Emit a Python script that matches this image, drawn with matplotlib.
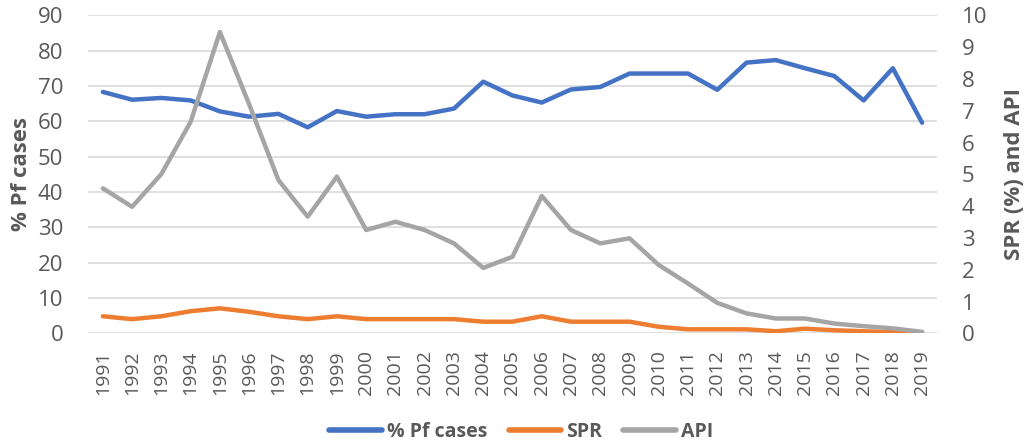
import numpy as np
import matplotlib
matplotlib.use("Agg")
import matplotlib.pyplot as plt

years = list(range(1991, 2020))
pf_cases = [68.3, 66.1, 66.6, 65.9, 62.8, 61.3, 62.1, 58.3, 62.9, 61.3, 62.0, 62.0, 63.6, 71.2,
            67.3, 65.3, 69.0, 69.7, 73.5, 73.5, 73.5, 68.9, 76.6, 77.3, 75.0, 72.8, 65.9, 75.0, 59.6]
spr = [0.54, 0.45, 0.54, 0.70, 0.79, 0.68, 0.54, 0.45, 0.54, 0.45, 0.45, 0.45, 0.45, 0.37,
       0.37, 0.54, 0.37, 0.37, 0.37, 0.21, 0.13, 0.13, 0.13, 0.07, 0.15, 0.10, 0.07, 0.04, 0.03]
api = [4.56, 3.98, 5.01, 6.65, 9.47, 7.2, 4.82, 3.67, 4.93, 3.25, 3.51, 3.25, 2.83, 2.06,
       2.41, 4.32, 3.25, 2.83, 2.99, 2.15, 1.57, 0.96, 0.63, 0.47, 0.47, 0.31, 0.23, 0.16, 0.05]

txt = "#595959"
plt.rcParams['font.family'] = ['Open Sans', 'DejaVu Sans']

fig = plt.figure(figsize=(10.26, 4.47), dpi=100)
ax = fig.add_axes([0.086, 0.254, 0.827, 0.712])
ax2 = ax.twinx()

x = np.arange(len(years))
l1, = ax.plot(x, pf_cases, color="#4472C4", lw=3.2, solid_capstyle="round", zorder=3)
l2, = ax2.plot(x, spr, color="#ED7D31", lw=3.2, solid_capstyle="round", zorder=3)
l3, = ax2.plot(x, api, color="#A5A5A5", lw=3.2, solid_capstyle="round", zorder=3)

ax.set_xlim(-0.5, len(years) - 0.5)
ax.set_ylim(0, 90)
ax2.set_ylim(0, 10)
ax.set_yticks(range(0, 91, 10))
ax2.set_yticks(range(0, 11))
ax.set_xticks(x)
ax.set_xticklabels([str(y) for y in years], rotation=90, fontsize=14, color=txt)
ax.grid(axis="y", color="#D9D9D9", lw=1.2)
ax.set_axisbelow(True)

for a in (ax, ax2):
    for s in a.spines.values():
        s.set_visible(False)
    a.tick_params(length=0, labelsize=16, labelcolor=txt)
ax.tick_params(axis="y", pad=18)
ax2.tick_params(axis="y", pad=18)
ax.tick_params(axis="x", pad=12, labelsize=14)

ax.set_ylabel("% Pf cases", fontsize=16, fontweight="bold", color=txt, labelpad=4)
ax2.set_ylabel("SPR (%) and API", fontsize=16, fontweight="bold", color=txt, labelpad=12)

leg = fig.legend([l1, l2, l3], ["% Pf cases", "SPR", "API"], loc="lower center",
                 bbox_to_anchor=(0.508, -0.028), ncol=3, frameon=False,
                 prop={"size": 14, "weight": "bold"},
                 handlelength=2.7, columnspacing=1.1, handletextpad=0.25, labelcolor=txt)
for h in leg.get_lines():
    h.set_linewidth(4)

fig.savefig("out.png", dpi=100)
